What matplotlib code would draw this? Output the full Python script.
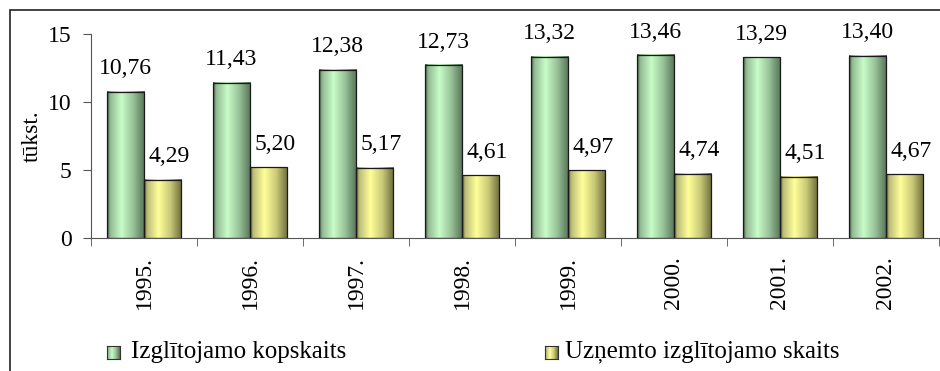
import numpy as np
import matplotlib
matplotlib.use('Agg')
import matplotlib.pyplot as plt
from matplotlib.colors import LinearSegmentedColormap
from matplotlib.patches import Rectangle

years = ['1995.', '1996.', '1997.', '1998.', '1999.', '2000.', '2001.', '2002.']
kopskaits = [10.76, 11.43, 12.38, 12.73, 13.32, 13.46, 13.29, 13.40]
uznemto = [4.29, 5.20, 5.17, 4.61, 4.97, 4.74, 4.51, 4.67]
series_names = ['Izglītojamo kopskaits', 'Uzņemto izglītojamo skaits']

plt.rcParams['font.family'] = ['Liberation Serif', 'DejaVu Serif']
FS = 17

# cylinder-like shading, left -> right
green_cm = LinearSegmentedColormap.from_list('g', [
    (0.0, '#3f5a3f'), (0.08, '#93bb93'), (0.38, '#c8fcc8'),
    (0.7, '#97c197'), (1.0, '#577257')])
yellow_cm = LinearSegmentedColormap.from_list('y', [
    (0.0, '#5f5f35'), (0.08, '#bdbd78'), (0.38, '#ffff99'),
    (0.7, '#c9c978'), (1.0, '#6d6d3c')])

W, H = 940, 371
fig = plt.figure(figsize=(W / 100, H / 100), dpi=100)

# outer chart border (cut off at right and bottom)
fig.add_artist(Rectangle((10 / W, -0.1), 1.2, (H - 10) / H + 0.1,
                         transform=fig.transFigure, fill=False,
                         ec='#222222', lw=1.2))

ax = fig.add_axes([91 / W, (H - 238) / H, 848 / W, 204 / H])

grad = np.linspace(0, 1, 64).reshape(1, -1)
bw = 0.35
x = np.arange(len(years)) + 0.5

for xs, vals, cm, dx in [(x - bw / 2, kopskaits, green_cm, 0),
                         (x + bw / 2, uznemto, yellow_cm, 5)]:
    for xc, v in zip(xs, vals):
        ax.imshow(grad, cmap=cm, extent=(xc - bw / 2, xc + bw / 2, 0, v),
                  aspect='auto', zorder=2, interpolation='bilinear')
        ax.add_patch(Rectangle((xc - bw / 2, 0), bw, v, fill=False,
                               ec='#1a1a1a', lw=0.9, zorder=3))
        ax.annotate(f'{v:.2f}'.replace('.', ','), (xc, v),
                    xytext=(dx, 12.5), textcoords='offset points',
                    ha='center', va='baseline', fontsize=FS)

ax.set_xlim(0, len(years))
ax.set_ylim(0, 15)

for s in ['top', 'right']:
    ax.spines[s].set_visible(False)
ax.spines['left'].set_color('#555555')
ax.spines['bottom'].set_color('#555555')

ax.set_yticks([0, 5, 10, 15])
ax.tick_params(axis='y', labelsize=FS, length=6, color='#555555', pad=8)
ax.set_xticks(x)
ax.set_xticklabels(years, rotation=90, fontsize=FS)
ax.set_xticks(np.arange(len(years) + 1), minor=True)
ax.tick_params(axis='x', which='major', length=0, pad=13)
ax.tick_params(axis='x', which='minor', length=6, color='#555555')
ax.set_ylabel('tūkst.', fontsize=FS, labelpad=4)

# legend
for lx, tx, name, cm in [(107, 131, series_names[0], green_cm),
                         (545, 565, series_names[1], yellow_cm)]:
    lax = fig.add_axes([lx / W, (H - 359) / H, 13 / W, 13 / H])
    lax.imshow(grad, cmap=cm, aspect='auto')
    lax.set_xticks([])
    lax.set_yticks([])
    for sp in lax.spines.values():
        sp.set_color('#333333')
    fig.text(tx / W, (H - 352) / H, name, fontsize=18,
             va='center', ha='left')

fig.savefig('out.png', dpi=100)
